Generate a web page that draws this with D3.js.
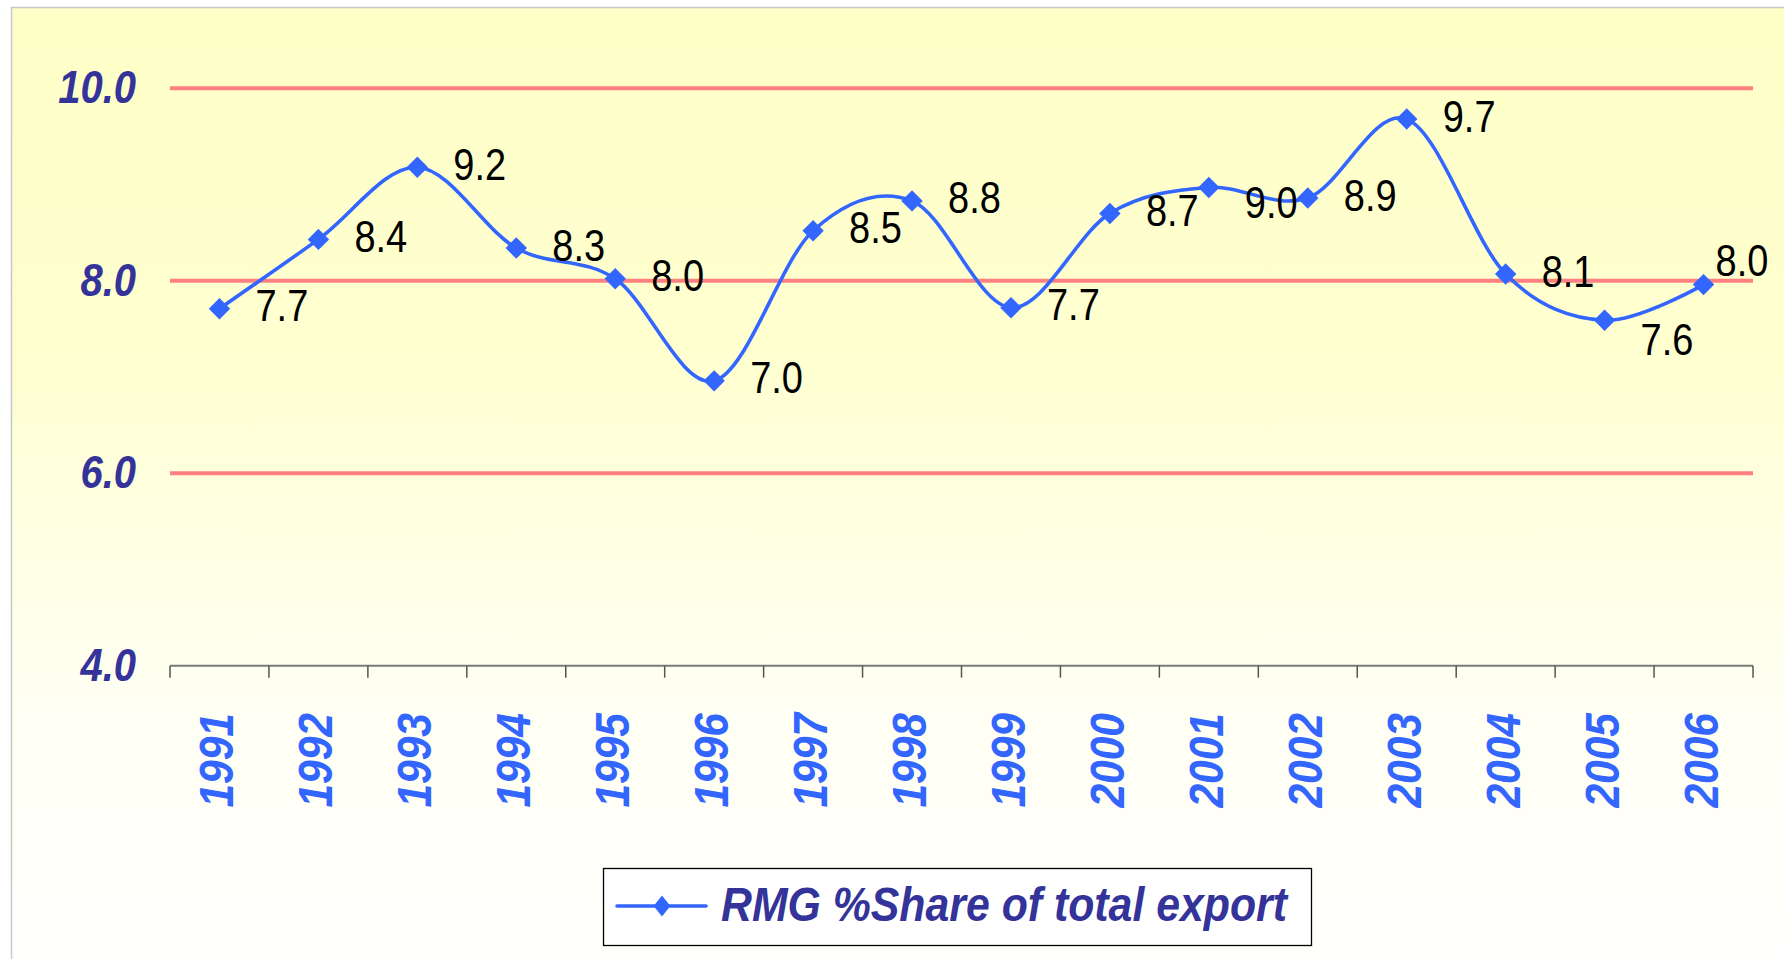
<!DOCTYPE html>
<html>
<head>
<meta charset="utf-8">
<script src="https://cdn.jsdelivr.net/npm/d3@7"></script>
<style>
  html, body { margin: 0; padding: 0; background: #fff; }
  svg { display: block; }
  text { font-family: "Liberation Sans", Arial, sans-serif; }
</style>
</head>
<body>
<div class="js-chart"></div>
<script>
// RMG share of total export, 1991-2006
const years = ["1991", "1992", "1993", "1994", "1995", "1996", "1997", "1998",
               "1999", "2000", "2001", "2002", "2003", "2004", "2005", "2006"];
const share = [7.71, 8.43, 9.18, 8.34, 8.02, 6.96, 8.52, 8.83,
               7.72, 8.70, 8.97, 8.86, 9.68, 8.07, 7.59, 7.96];
const yTicks = [4, 6, 8, 10];
const seriesName = "RMG %Share of total export";

// a few data labels were dragged by hand in the original
const labelNudge = {
  "2001": [0, 18],
  "2005": [0, 22],
  "2006": [-24, -21]
};

const width = 1784
    , height = 959
    , plotLeft = 170
    , plotRight = 1753
    , plotTop = 88.3
    , plotBottom = 665.7
    ;

const lineColor = "#3366ff";

const svg = d3.select(".js-chart")
  .append("svg")
  .attr("width", width)
  .attr("height", height);

const defs = svg.append("defs");
const grad = defs.append("linearGradient")
  .attr("id", "bg")
  .attr("x1", 0).attr("x2", 0)
  .attr("y1", 0).attr("y2", 1);
grad.append("stop").attr("offset", "0%").attr("stop-color", "#ffffc8");
grad.append("stop").attr("offset", "35%").attr("stop-color", "#ffffd0");
grad.append("stop").attr("offset", "70%").attr("stop-color", "#fffff2");
grad.append("stop").attr("offset", "100%").attr("stop-color", "#fffffe");

// chart area
svg.append("rect")
  .attr("x", 11.5)
  .attr("y", 7.5)
  .attr("width", width + 20)
  .attr("height", height + 20)
  .attr("fill", "url(#bg)")
  .attr("stroke", "#c8c8c8")
  .attr("stroke-width", 1.5);

const x = d3.scaleBand()
  .domain(years)
  .range([plotLeft, plotRight]);

const y = d3.scaleLinear()
  .domain([4, 10])
  .range([plotBottom, plotTop]);

const cx = d => x(d) + x.bandwidth() / 2;

// gridlines
svg.append("g")
  .selectAll("line")
  .data(yTicks.filter(v => v > 4))
  .join("line")
    .attr("x1", plotLeft)
    .attr("x2", plotRight)
    .attr("y1", d => y(d))
    .attr("y2", d => y(d))
    .attr("stroke", "#ff8080")
    .attr("stroke-width", 4);

// y labels
svg.append("g")
  .selectAll("text")
  .data(yTicks)
  .join("text")
    .attr("transform", d => `translate(136,${y(d) + 15}) scale(1,1.16)`)
    .attr("text-anchor", "end")
    .attr("font-size", 40)
    .attr("font-weight", "bold")
    .attr("font-style", "italic")
    .attr("fill", "#333399")
    .text(d => d.toFixed(1));

// category axis
const axisG = svg.append("g");
axisG.append("line")
  .attr("x1", plotLeft)
  .attr("x2", plotRight)
  .attr("y1", plotBottom)
  .attr("y2", plotBottom)
  .attr("stroke", "#7a7a7a")
  .attr("stroke-width", 2);

axisG.selectAll(".tick")
  .data(years.map(d => x(d)).concat([plotRight]))
  .join("line")
    .attr("class", "tick")
    .attr("x1", d => d)
    .attr("x2", d => d)
    .attr("y1", plotBottom)
    .attr("y2", plotBottom + 12)
    .attr("stroke", "#555")
    .attr("stroke-width", 1.5);

axisG.selectAll("text")
  .data(years)
  .join("text")
    .attr("transform", d => `translate(${cx(d) + 14},713) rotate(-90) scale(1,1.15)`)
    .attr("text-anchor", "end")
    .attr("font-size", 42.5)
    .attr("font-weight", "bold")
    .attr("font-style", "italic")
    .attr("fill", lineColor)
    .text(d => d);

// series
const pts = years.map((d, i) => ({year: d, value: share[i]}));

const line = d3.line()
  .x(d => cx(d.year))
  .y(d => y(d.value))
  .curve(d3.curveCardinal.tension(0));

svg.append("path")
  .datum(pts)
  .attr("d", line)
  .attr("fill", "none")
  .attr("stroke", lineColor)
  .attr("stroke-width", 3.6)
  .attr("stroke-linejoin", "round");

const diamond = d3.symbol(d3.symbolSquare, 230);

svg.append("g")
  .selectAll("path")
  .data(pts)
  .join("path")
    .attr("d", diamond)
    .attr("transform", d => `translate(${cx(d.year)},${y(d.value)}) rotate(45)`)
    .attr("fill", lineColor);

// data labels
svg.append("g")
  .selectAll("text")
  .data(pts)
  .join("text")
    .attr("transform", d => {
      const n = labelNudge[d.year] || [0, 0];
      return `translate(${cx(d.year) + 36 + n[0]},${y(d.value) + 12.5 + n[1]}) scale(1,1.18)`;
    })
    .attr("font-size", 38)
    .attr("fill", "#000")
    .text(d => d.value.toFixed(1));

// legend
const legend = svg.append("g");
legend.append("rect")
  .attr("x", 603.5)
  .attr("y", 868.5)
  .attr("width", 708)
  .attr("height", 77)
  .attr("fill", "#fff")
  .attr("stroke", "#000")
  .attr("stroke-width", 1.3);

legend.append("line")
  .attr("x1", 617)
  .attr("x2", 706)
  .attr("y1", 906)
  .attr("y2", 906)
  .attr("stroke", lineColor)
  .attr("stroke-width", 3.6)
  .attr("stroke-linecap", "round");

legend.append("path")
  .attr("d", d3.symbol(d3.symbolSquare, 220))
  .attr("transform", "translate(662,906) scale(0.8,1) rotate(45)")
  .attr("fill", lineColor);

legend.append("text")
  .attr("x", 721)
  .attr("y", 920.5)
  .attr("font-size", 48)
  .attr("font-weight", "bold")
  .attr("font-style", "italic")
  .attr("fill", "#333399")
  .attr("textLength", 566)
  .attr("lengthAdjust", "spacingAndGlyphs")
  .text(seriesName);
</script>
</body>
</html>
